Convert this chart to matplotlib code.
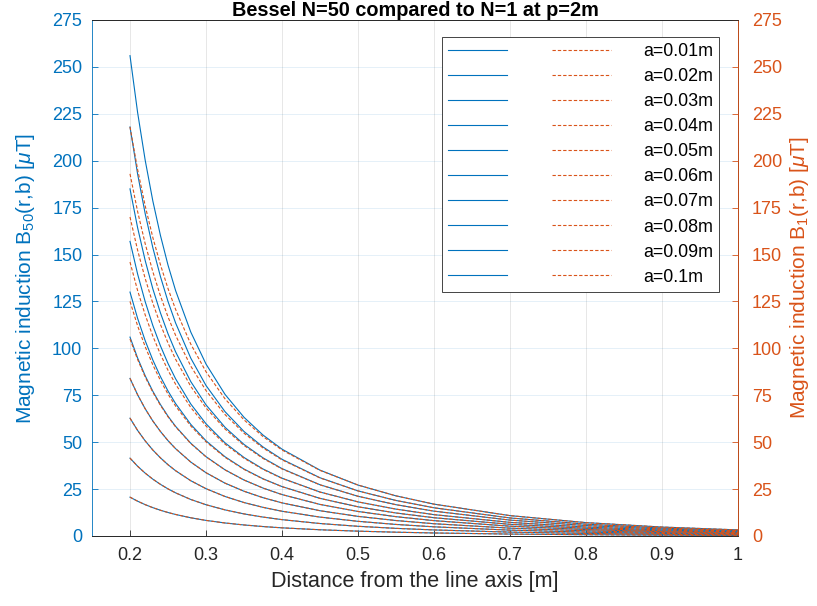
import numpy as np
import matplotlib
matplotlib.use('Agg')
import matplotlib.pyplot as plt
from matplotlib.legend_handler import HandlerTuple

plt.rcParams['font.family'] = ['Liberation Sans', 'DejaVu Sans']
plt.rcParams['mathtext.fontset'] = 'custom'
plt.rcParams['mathtext.rm'] = 'Liberation Sans'
plt.rcParams['mathtext.it'] = 'Liberation Sans:italic'

distance = [0.2, 0.21, 0.22, 0.23, 0.24, 0.25, 0.26, 0.28, 0.3, 0.325, 0.35,
            0.375, 0.4, 0.45, 0.5, 0.55, 0.6, 0.7, 0.8, 0.9, 1.0]
labels = ['a=0.01m', 'a=0.02m', 'a=0.03m', 'a=0.04m', 'a=0.05m',
          'a=0.06m', 'a=0.07m', 'a=0.08m', 'a=0.09m', 'a=0.1m']

# B_50 (blue, left axis)
b50 = [
    [20.7, 18.55, 16.70, 15.11, 13.73, 12.52, 11.47, 9.71, 8.31, 6.94, 5.88,
     5.03, 4.35, 3.32, 2.58, 2.03, 1.61, 1.03, 0.68, 0.45, 0.31],
    [41.5, 37.18, 33.49, 30.30, 27.54, 25.11, 22.99, 19.46, 16.67, 13.92, 11.78,
     10.09, 8.72, 6.65, 5.17, 4.07, 3.23, 2.07, 1.36, 0.91, 0.62],
    [62.8, 56.27, 50.68, 45.84, 41.67, 37.99, 34.79, 29.45, 25.22, 21.06, 17.83,
     15.27, 13.20, 10.07, 7.82, 6.16, 4.89, 3.13, 2.05, 1.38, 0.94],
    [84.0, 75.26, 67.79, 61.32, 55.73, 50.82, 46.54, 39.40, 33.73, 28.17, 23.85,
     20.42, 17.66, 13.47, 10.46, 8.24, 6.54, 4.18, 2.75, 1.84, 1.25],
    [106.0, 94.88, 85.38, 77.16, 70.08, 63.86, 58.43, 49.42, 42.28, 35.28, 29.85,
     25.55, 22.08, 16.83, 13.07, 10.30, 8.18, 5.23, 3.43, 2.30, 1.56],
    [130.0, 116.0, 104.08, 93.82, 85.0, 77.28, 70.57, 59.48, 50.74, 42.24, 35.67,
     30.50, 26.34, 20.06, 15.56, 12.26, 9.74, 6.23, 4.09, 2.74, 1.86],
    [157.0, 139.62, 124.86, 112.22, 101.39, 91.95, 83.78, 70.33, 59.82, 49.65, 41.85,
     35.72, 30.82, 23.44, 18.18, 14.32, 11.37, 7.27, 4.77, 3.20, 2.18],
    [185.0, 164.32, 146.79, 131.80, 118.97, 107.79, 98.14, 82.27, 69.89, 57.95, 48.80,
     41.65, 35.91, 27.31, 21.17, 16.68, 13.24, 8.47, 5.56, 3.72, 2.53],
    [218.0, 192.93, 171.75, 153.72, 138.34, 125.0, 113.52, 94.75, 80.21, 66.28, 55.69,
     47.45, 40.87, 31.04, 24.03, 18.93, 15.03, 9.61, 6.31, 4.23, 2.88],
    [256.0, 225.73, 200.25, 178.63, 160.26, 144.39, 130.80, 108.66, 91.65, 75.48, 63.26,
     53.80, 46.28, 35.10, 27.14, 21.39, 16.98, 10.86, 7.13, 4.77, 3.25],
]

# B_1 (orange dashed, right axis)
b1 = [
    [20.7, 18.55, 16.70, 15.11, 13.73, 12.52, 11.47, 9.71, 8.31, 6.94, 5.88,
     5.03, 4.35, 3.32, 2.58, 2.03, 1.61, 1.03, 0.68, 0.45, 0.31],
    [41.5, 37.18, 33.49, 30.30, 27.54, 25.11, 22.99, 19.46, 16.67, 13.92, 11.78,
     10.09, 8.72, 6.65, 5.17, 4.07, 3.23, 2.07, 1.36, 0.91, 0.62],
    [62.8, 56.27, 50.68, 45.84, 41.67, 37.99, 34.79, 29.45, 25.22, 21.06, 17.83,
     15.27, 13.20, 10.07, 7.82, 6.16, 4.89, 3.13, 2.05, 1.38, 0.94],
    [84.0, 75.26, 67.79, 61.32, 55.73, 50.82, 46.54, 39.40, 33.73, 28.17, 23.85,
     20.42, 17.66, 13.47, 10.46, 8.24, 6.54, 4.18, 2.75, 1.84, 1.25],
    [105.0, 94.08, 84.74, 76.65, 69.67, 63.53, 58.17, 49.25, 42.17, 35.22, 29.81,
     25.53, 22.07, 16.83, 13.07, 10.30, 8.18, 5.23, 3.43, 2.30, 1.56],
    [125.0, 112.0, 100.88, 91.25, 82.94, 75.63, 69.25, 58.63, 50.20, 41.93, 35.49,
     30.39, 26.28, 20.04, 15.56, 12.26, 9.74, 6.23, 4.09, 2.74, 1.86],
    [146.0, 130.82, 117.82, 106.58, 96.87, 88.33, 80.88, 68.47, 58.63, 48.97, 41.45,
     35.49, 30.69, 23.40, 18.18, 14.32, 11.37, 7.27, 4.77, 3.20, 2.18],
    [170.0, 152.32, 137.19, 124.10, 112.80, 102.85, 94.18, 79.73, 68.27, 57.02, 48.26,
     41.33, 35.73, 27.25, 21.17, 16.68, 13.24, 8.47, 5.56, 3.72, 2.53],
    [193.0, 172.93, 155.75, 140.89, 128.06, 116.77, 106.92, 90.52, 77.51, 64.73, 54.79,
     46.92, 40.57, 30.94, 24.03, 18.93, 15.03, 9.61, 6.31, 4.23, 2.88],
    [218.0, 195.33, 175.93, 159.14, 144.64, 131.89, 120.77, 102.24, 87.55, 73.12, 61.89,
     53.00, 45.82, 34.95, 27.14, 21.39, 16.98, 10.86, 7.13, 4.77, 3.25],
]

blue = '#0072BD'
orange = '#D95319'
dark = '#262626'

fig = plt.figure(figsize=(8.17, 6.06), dpi=100)
ax = fig.add_axes([92 / 817, 1 - 536 / 606, (738 - 92) / 817, (536 - 20) / 606])
ax2 = ax.twinx()

handles = []
for yb, yo, lab in zip(b50, b1, labels):
    hb, = ax.plot(distance, yb, color=blue, lw=0.8)
    ho, = ax2.plot(distance, yo, color=orange, lw=0.8, ls=(0, (3, 1.8)))
    handles.append((hb, ho))

yticks = np.arange(0, 276, 25)
for a in (ax, ax2):
    a.set_xlim(0.15, 1.0)
    a.set_ylim(0, 275)
    a.set_yticks(yticks)
    a.tick_params(direction='in', length=4, width=0.6, labelsize=13)

ax.set_xticks([0.2, 0.3, 0.4, 0.5, 0.6, 0.7, 0.8, 0.9, 1.0])
ax.set_xticklabels(['0.2', '0.3', '0.4', '0.5', '0.6', '0.7', '0.8', '0.9', '1'])
ax.tick_params(axis='x', colors=dark, labelcolor=dark, pad=8)
ax.tick_params(axis='y', colors=blue, labelcolor=blue, pad=7)
ax2.tick_params(axis='y', colors=orange, labelcolor=orange, pad=10)

ax.grid(True, axis='x', color='#262626', alpha=0.13, lw=0.6)
ax.grid(True, axis='y', color=blue, alpha=0.12, lw=0.6)
ax.set_axisbelow(True)

for s in ax.spines.values():
    s.set_linewidth(0.6)
ax.spines['left'].set_color(blue)
ax.spines['top'].set_color(dark)
ax.spines['bottom'].set_color(dark)
for s in ax2.spines.values():
    s.set_linewidth(0.6)
ax2.spines['right'].set_color(orange)
ax2.spines['left'].set_visible(False)
ax2.spines['top'].set_color(dark)
ax2.spines['bottom'].set_color(dark)

ax.set_xlabel('Distance from the line axis [m]', fontsize=15.5, color=dark, labelpad=5)
ax.set_ylabel(r'Magnetic induction B$_{50}$(r,b) [$\mu$T]', fontsize=15, color=blue, labelpad=11)
ax2.set_ylabel(r'Magnetic induction B$_{1}$(r,b) [$\mu$T]', fontsize=15, color=orange, labelpad=4)
ax.set_title('Bessel N=50 compared to N=1 at p=2m', fontsize=14.3, fontweight='bold', pad=3)

leg = ax2.legend(handles, labels, handler_map={tuple: HandlerTuple(ndivide=None, pad=2.5)},
                 loc='upper right', bbox_to_anchor=(0.9706, 0.967), borderaxespad=0,
                 fontsize=12.9, handlelength=9.1, handletextpad=1.77, labelspacing=0.45,
                 fancybox=False, framealpha=1, edgecolor=dark, borderpad=0.34)
leg.get_frame().set_linewidth(0.6)

fig.savefig('out.png', dpi=100)
